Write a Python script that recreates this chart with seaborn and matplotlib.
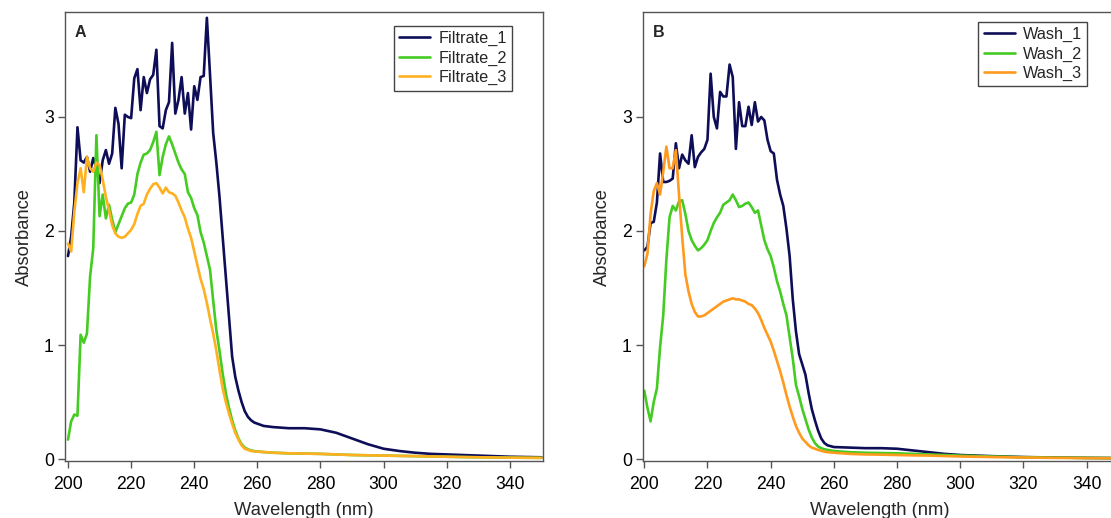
import numpy as np
import pandas as pd
import matplotlib
matplotlib.use("Agg")
import matplotlib.pyplot as plt
import seaborn as sns

# ---------------- data ----------------
wl_f1 = [200,201,202,203,204,205,206,207,208,209,210,211,212,213,214,215,216,217,218,219,
         220,221,222,223,224,225,226,227,228,229,230,231,232,233,234,235,236,237,238,239,
         240,241,242,243,244,245,246,247,248,249,250,251,252,253,254,255,256,257,258,259,
         260,262,265,270,275,280,285,290,295,300,305,310,315,320,330,340,350]
filtrate_1 = [1.78,1.95,2.25,2.91,2.62,2.60,2.65,2.52,2.64,2.55,2.42,2.62,2.71,2.59,2.68,3.08,2.94,2.55,3.02,3.00,
              2.99,3.34,3.42,3.06,3.35,3.21,3.33,3.37,3.59,2.92,2.90,3.06,3.13,3.65,3.03,3.15,3.35,3.03,3.21,2.89,
              3.27,3.15,3.35,3.36,3.87,3.37,2.86,2.60,2.30,1.95,1.60,1.25,0.90,0.72,0.60,0.50,0.42,0.37,0.34,0.32,
              0.31,0.29,0.28,0.27,0.27,0.26,0.23,0.18,0.13,0.09,0.07,0.055,0.045,0.04,0.03,0.02,0.015]

wl_f23 = [200,201,202,203,204,205,206,207,208,209,210,211,212,213,214,215,216,217,218,219,
          220,221,222,223,224,225,226,227,228,229,230,231,232,233,234,235,236,237,238,239,
          240,241,242,243,244,245,246,247,248,249,250,251,252,253,254,255,256,257,258,
          260,265,270,280,290,300,310,320,330,340,350]
filtrate_2 = [0.17,0.33,0.39,0.38,1.09,1.02,1.10,1.60,1.85,2.84,2.13,2.32,2.11,2.23,2.10,1.99,2.06,2.13,2.20,2.24,
              2.25,2.32,2.50,2.60,2.67,2.68,2.71,2.78,2.87,2.49,2.65,2.76,2.83,2.76,2.68,2.60,2.54,2.50,2.34,2.29,
              2.20,2.14,1.99,1.90,1.78,1.66,1.39,1.13,0.95,0.75,0.58,0.45,0.34,0.25,0.18,0.13,0.10,0.085,0.075,
              0.065,0.055,0.05,0.045,0.035,0.03,0.025,0.02,0.015,0.012,0.01]
filtrate_3 = [1.89,1.82,2.17,2.42,2.55,2.34,2.65,2.55,2.52,2.60,2.58,2.45,2.30,2.18,2.05,1.98,1.95,1.94,1.95,1.98,
              2.01,2.06,2.15,2.22,2.24,2.32,2.37,2.41,2.42,2.38,2.33,2.38,2.34,2.33,2.31,2.25,2.18,2.12,2.02,1.94,
              1.82,1.70,1.58,1.49,1.37,1.23,1.10,0.95,0.78,0.62,0.50,0.40,0.31,0.23,0.17,0.12,0.09,0.08,0.07,
              0.065,0.055,0.05,0.045,0.035,0.03,0.025,0.02,0.015,0.012,0.01]

wl_w = [200,201,202,203,204,205,206,207,208,209,210,211,212,213,214,215,216,217,218,219,
        220,221,222,223,224,225,226,227,228,229,230,231,232,233,234,235,236,237,238,239,
        240,241,242,243,244,245,246,247,248,249,250,251,252,253,254,255,256,257,258,
        260,265,270,275,280,285,290,295,300,310,320,330,340,350]
wash_1 = [1.83,1.86,2.07,2.08,2.25,2.68,2.43,2.43,2.44,2.46,2.77,2.55,2.67,2.62,2.59,2.84,2.56,2.65,2.69,2.72,
          2.80,3.38,3.00,2.90,3.22,3.18,3.18,3.46,3.35,2.72,3.13,2.92,2.92,3.09,2.93,3.13,2.96,3.00,2.97,2.80,
          2.70,2.68,2.45,2.32,2.22,2.02,1.78,1.40,1.12,0.92,0.83,0.74,0.58,0.44,0.34,0.25,0.18,0.14,0.12,
          0.105,0.10,0.095,0.095,0.09,0.075,0.06,0.045,0.035,0.025,0.017,0.013,0.01,0.008]
wash_2 = [0.60,0.45,0.33,0.50,0.62,0.98,1.26,1.75,2.12,2.22,2.18,2.26,2.27,2.15,2.00,1.92,1.87,1.83,1.85,1.88,
          1.92,2.00,2.07,2.12,2.16,2.23,2.25,2.27,2.32,2.27,2.21,2.22,2.24,2.25,2.21,2.16,2.18,2.05,1.92,1.84,
          1.78,1.68,1.56,1.47,1.36,1.26,1.07,0.88,0.65,0.55,0.44,0.35,0.26,0.19,0.14,0.11,0.095,0.085,0.08,
          0.07,0.06,0.055,0.052,0.05,0.045,0.04,0.035,0.03,0.022,0.016,0.012,0.01,0.008]
wash_3 = [1.69,1.80,2.15,2.35,2.42,2.32,2.52,2.74,2.55,2.55,2.71,2.32,1.95,1.62,1.47,1.36,1.29,1.25,1.25,1.26,
          1.28,1.30,1.32,1.34,1.36,1.38,1.39,1.40,1.41,1.40,1.40,1.39,1.38,1.36,1.35,1.32,1.28,1.22,1.15,1.09,
          1.03,0.95,0.86,0.77,0.67,0.56,0.46,0.37,0.29,0.23,0.18,0.15,0.12,0.10,0.09,0.08,0.072,0.065,0.06,
          0.055,0.045,0.04,0.038,0.035,0.032,0.03,0.026,0.022,0.017,0.013,0.01,0.008,0.006]

x_ticks = [200, 220, 240, 260, 280, 300, 320, 340]
y_ticks = [0, 1, 2, 3]

# ---------------- style ----------------
sns.set_theme(style="white")
plt.rcParams['font.family'] = ['Liberation Sans', 'DejaVu Sans']

NAVY = "#0e0e58"
GREEN = "#45cc22"
ORANGE_A = "#ffb020"
ORANGE_B = "#ff9a1e"
AXC = "#555555"

fig = plt.figure(figsize=(11.11, 5.18), dpi=100)
axA = fig.add_axes([65/1111, 1-461/518, 478/1111, 449/518])
axB = fig.add_axes([643/1111, 1-461/518, 474/1111, 449/518])

panels = [
    (axA, "A", [(wl_f1, filtrate_1, "Filtrate_1", NAVY),
                (wl_f23, filtrate_2, "Filtrate_2", GREEN),
                (wl_f23, filtrate_3, "Filtrate_3", ORANGE_A)],
     (199.05, 350.5), (0.935, 0.969)),
    (axB, "B", [(wl_w, wash_1, "Wash_1", NAVY),
                (wl_w, wash_2, "Wash_2", GREEN),
                (wl_w, wash_3, "Wash_3", ORANGE_B)],
     (199.6, 349.6), (0.937, 0.978)),
]

for ax, letter, series, xlim, leg_anchor in panels:
    for wl, vals, name, col in series:
        df = pd.DataFrame({"Wavelength": wl, "Absorbance": vals})
        sns.lineplot(data=df, x="Wavelength", y="Absorbance", ax=ax, color=col,
                     linewidth=1.9, label=name, estimator=None, sort=False)
    ax.set_xlim(*xlim)
    ax.set_ylim(-0.0175, 3.921)
    ax.set_xticks(x_ticks)
    ax.set_yticks(y_ticks)
    ax.tick_params(axis="both", direction="out", length=5, width=1, color=AXC,
                   labelsize=12.7, labelcolor="black", pad=3)
    ax.tick_params(axis="x", pad=6)
    ax.tick_params(bottom=True, left=True)
    for s in ax.spines.values():
        s.set_color(AXC)
        s.set_linewidth(1.0)
    ax.set_xlabel("Wavelength (nm)", fontsize=13.2, labelpad=6)
    ax.set_ylabel("Absorbance", fontsize=13.2, labelpad=8)
    ax.text(0.021, 0.955, letter, transform=ax.transAxes, fontsize=11.5,
            fontweight="bold", ha="left", va="center")
    leg = ax.legend(loc="upper right", bbox_to_anchor=leg_anchor, borderaxespad=0,
                    frameon=True, fancybox=False, framealpha=1, edgecolor="#444444",
                    fontsize=11.7, handlelength=1.9, handletextpad=0.5,
                    labelspacing=0.27, borderpad=0.32)
    leg.get_frame().set_linewidth(1.0)

fig.savefig("out.png", dpi=100)
